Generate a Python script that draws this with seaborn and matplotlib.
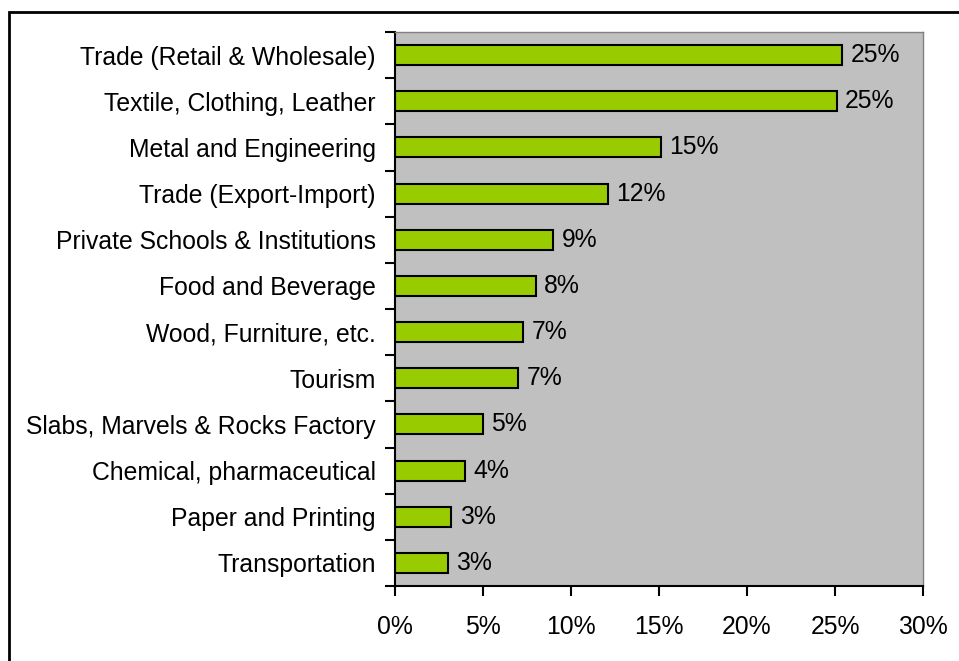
import matplotlib
matplotlib.use("Agg")
import matplotlib.pyplot as plt
import seaborn as sns
import pandas as pd
from matplotlib.patches import Rectangle
from matplotlib.ticker import FixedLocator, FuncFormatter

categories = [
    "Trade (Retail & Wholesale)",
    "Textile, Clothing, Leather",
    "Metal and Engineering",
    "Trade (Export-Import)",
    "Private Schools & Institutions",
    "Food and Beverage",
    "Wood, Furniture, etc.",
    "Tourism",
    "Slabs, Marvels & Rocks Factory",
    "Chemical, pharmaceutical",
    "Paper and Printing",
    "Transportation",
]
values = [25.4, 25.1, 15.1, 12.1, 9.0, 8.0, 7.3, 7.0, 5.0, 4.0, 3.2, 3.0]
xticks = [0, 5, 10, 15, 20, 25, 30]

sns.set_theme(style="white")
plt.rcParams["font.family"] = ["Liberation Sans", "DejaVu Sans"]

FS = 17.8

df = pd.DataFrame({"category": categories, "value": values})

fig = plt.figure(figsize=(9.59, 6.61), dpi=100)
ax = fig.add_axes([395/959, 1-586/661, (923-395)/959, (586-32)/661])

sns.barplot(data=df, y="category", x="value", orient="h", color="#99CC00",
            edgecolor="black", linewidth=1.5, width=0.43, saturation=1, ax=ax)

ax.set_facecolor("#C0C0C0")
ax.set_xlim(0, 30)
ax.set_ylim(len(categories) - 0.5, -0.5)
ax.set_xlabel("")
ax.set_ylabel("")

ax.set_xticks(xticks)
ax.xaxis.set_major_formatter(FuncFormatter(lambda v, p: f"{v:.0f}%"))
ax.tick_params(axis="x", which="major", direction="out", length=7, width=1.5,
               color="black", labelcolor="black", labelsize=FS, pad=14, bottom=True)

ax.yaxis.set_minor_locator(FixedLocator([i - 0.5 for i in range(len(categories) + 1)]))
ax.tick_params(axis="y", which="major", length=0, labelsize=FS, labelcolor="black",
               pad=14, left=False)
ax.tick_params(axis="y", which="minor", direction="out", length=7, width=1.5,
               color="black", left=True)

for side in ["left", "bottom"]:
    ax.spines[side].set_color("black")
    ax.spines[side].set_linewidth(1.5)
for side in ["top", "right"]:
    ax.spines[side].set_color("#808080")
    ax.spines[side].set_linewidth(1)
    ax.spines[side].set_visible(True)

labels = [f"{round(v):d}%" for v in values]
ax.bar_label(ax.containers[0], labels=labels, padding=6, fontsize=FS, color="black")

fig.patches.append(Rectangle((9/959, -0.05), 1.0, 1 - 12/661 + 0.05,
                             transform=fig.transFigure, fill=False,
                             edgecolor="black", linewidth=2, clip_on=False))

fig.savefig("out.png", dpi=100, facecolor="white")
